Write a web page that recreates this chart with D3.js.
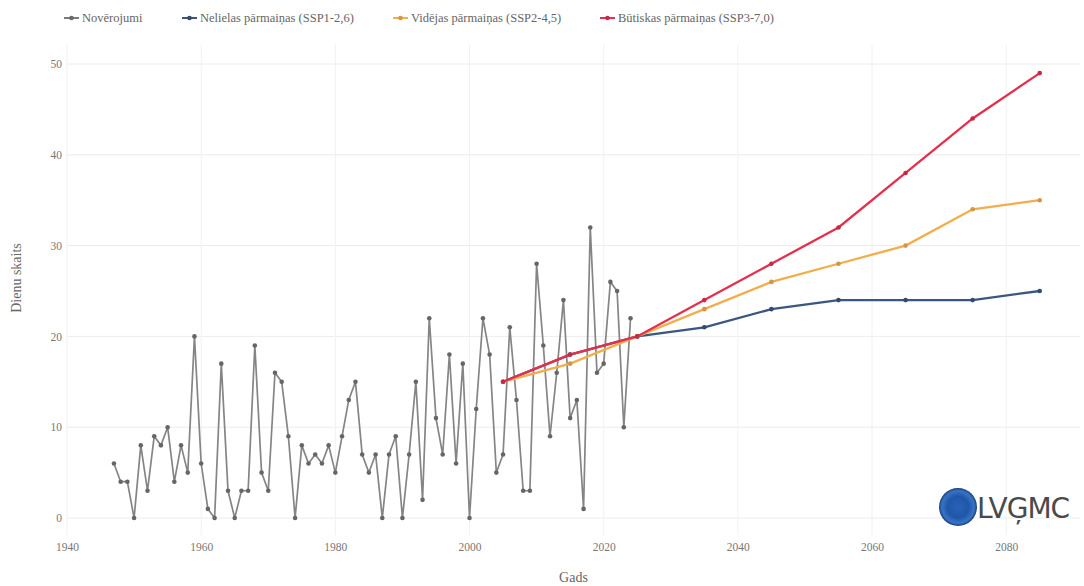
<!DOCTYPE html>
<html>
<head>
<meta charset="utf-8">
<script src="https://cdn.jsdelivr.net/npm/d3@7"></script>
<style>
  body { margin: 0; background: #fff; }
  text { font-family: "Liberation Serif", "DejaVu Serif", serif; }
</style>
</head>
<body>
<script>
let width = 1084, height = 586;

// observed days per year
let obsYears = d3.range(1947, 2025);
let obsValues = [6, 4, 4, 0, 8, 3, 9, 8, 10, 4, 8, 5, 20, 6, 1, 0, 17, 3, 0, 3,
  3, 19, 5, 3, 16, 15, 9, 0, 8, 6, 7, 6, 8, 5, 9, 13, 15, 7, 5, 7,
  0, 7, 9, 0, 7, 15, 2, 22, 11, 7, 18, 6, 17, 0, 12, 22, 18, 5, 7, 21,
  13, 3, 3, 28, 19, 9, 16, 24, 11, 13, 1, 32, 16, 17, 26, 25, 10, 22];

let projYears = [2005, 2015, 2025, 2035, 2045, 2055, 2065, 2075, 2085];
let ssp126 = [15, 18, 20, 21, 23, 24, 24, 24, 25];
let ssp245 = [15, 17, 20, 23, 26, 28, 30, 34, 35];
let ssp370 = [15, 18, 20, 24, 28, 32, 38, 44, 49];

let xTicks = [1940, 1960, 1980, 2000, 2020, 2040, 2060, 2080];
let yTicks = [0, 10, 20, 30, 40, 50];

let seriesNames = ['Novērojumi', 'Nelielas pārmaiņas (SSP1-2,6)', 'Vidējas pārmaiņas (SSP2-4,5)', 'Būtiskas pārmaiņas (SSP3-7,0)'];
let seriesColors = ['#7a7a7a', '#3b5680', '#f2ae4c', '#e4304d'];

let x = d3.scaleLinear().domain([1940, 2091]).range([67, 1080]);
let y = d3.scaleLinear().domain([0, 50]).range([518, 64]);

let svg = d3.select('body')
  .append('svg')
  .attr('width', width)
  .attr('height', height);

// grid
svg.append('g')
  .selectAll('line')
  .data(yTicks)
  .join('line')
  .attr('x1', 67).attr('x2', 1080)
  .attr('y1', d => y(d)).attr('y2', d => y(d))
  .attr('stroke', '#ececec');

svg.append('g')
  .selectAll('line')
  .data(xTicks)
  .join('line')
  .attr('x1', d => x(d)).attr('x2', d => x(d))
  .attr('y1', 45).attr('y2', 535)
  .attr('stroke', '#f1f1f1');

// axes
let xAxis = svg.append('g')
  .attr('transform', 'translate(0,540)')
  .call(d3.axisBottom(x).tickValues(xTicks).tickFormat(d3.format('d')).tickSize(0));
let yAxis = svg.append('g')
  .attr('transform', 'translate(62,0)')
  .call(d3.axisLeft(y).tickValues(yTicks).tickSize(0).tickPadding(0));
[xAxis, yAxis].forEach(a => {
  a.select('.domain').remove();
  a.selectAll('text')
    .attr('fill', '#777')
    .style('font-size', '11.5px')
    .style('font-family', '"Liberation Serif", serif');
});

svg.append('text')
  .attr('x', x(2015.5)).attr('y', 582)
  .attr('text-anchor', 'middle')
  .attr('fill', '#666')
  .style('font-size', '14px')
  .text('Gads');

svg.append('text')
  .attr('transform', 'translate(21,278) rotate(-90)')
  .attr('text-anchor', 'middle')
  .attr('fill', '#666')
  .style('font-size', '14px')
  .text('Dienu skaits');

// series
let line = d3.line().x(d => x(d[0])).y(d => y(d[1]));

let obs = obsYears.map((yr, i) => [yr, obsValues[i]]);
let proj = [ssp126, ssp245, ssp370].map(vals => projYears.map((yr, i) => [yr, vals[i]]));
let allSeries = [obs].concat(proj);

allSeries.forEach((pts, i) => {
  let g = svg.append('g');
  g.append('path')
    .datum(pts)
    .attr('d', line)
    .attr('fill', 'none')
    .attr('stroke', i == 0 ? '#858585' : seriesColors[i])
    .attr('stroke-width', i == 0 ? 1.7 : 2.3);
  g.selectAll('circle')
    .data(pts)
    .join('circle')
    .attr('cx', d => x(d[0]))
    .attr('cy', d => y(d[1]))
    .attr('r', 2.3)
    .attr('fill', i == 0 ? '#666' : d3.color(seriesColors[i]).darker(0.4));
});

// legend
let legendX = [64, 182, 393, 600];
let legend = svg.append('g')
  .selectAll('g')
  .data(seriesNames)
  .join('g')
  .attr('transform', (d, i) => `translate(${legendX[i]},18)`);
legend.append('line')
  .attr('x1', 0).attr('x2', 15)
  .attr('stroke', (d, i) => seriesColors[i])
  .attr('stroke-width', 2);
legend.append('circle')
  .attr('cx', 7.5).attr('r', 2.3)
  .attr('fill', (d, i) => d3.color(seriesColors[i]).darker(0.4));
legend.append('text')
  .attr('x', 18).attr('y', 4)
  .attr('fill', '#666')
  .style('font-size', '12.5px')
  .text(d => d);

// logo
let defs = svg.append('defs');
let grad = defs.append('radialGradient').attr('id', 'logoGrad');
grad.append('stop').attr('offset', '0%').attr('stop-color', '#2a62b8');
grad.append('stop').attr('offset', '55%').attr('stop-color', '#1f57a8');
grad.append('stop').attr('offset', '85%').attr('stop-color', '#3a73c4');
grad.append('stop').attr('offset', '100%').attr('stop-color', '#173f80');
svg.append('circle')
  .attr('cx', 958).attr('cy', 507).attr('r', 19)
  .attr('fill', 'url(#logoGrad)');
svg.append('text')
  .attr('x', 977).attr('y', 518)
  .attr('fill', '#4a4a4a')
  .style('font-family', '"DejaVu Sans", sans-serif')
  .style('font-size', '28px')
  .style('letter-spacing', '-1px')
  .text('LVĢMC');
</script>
</body>
</html>
